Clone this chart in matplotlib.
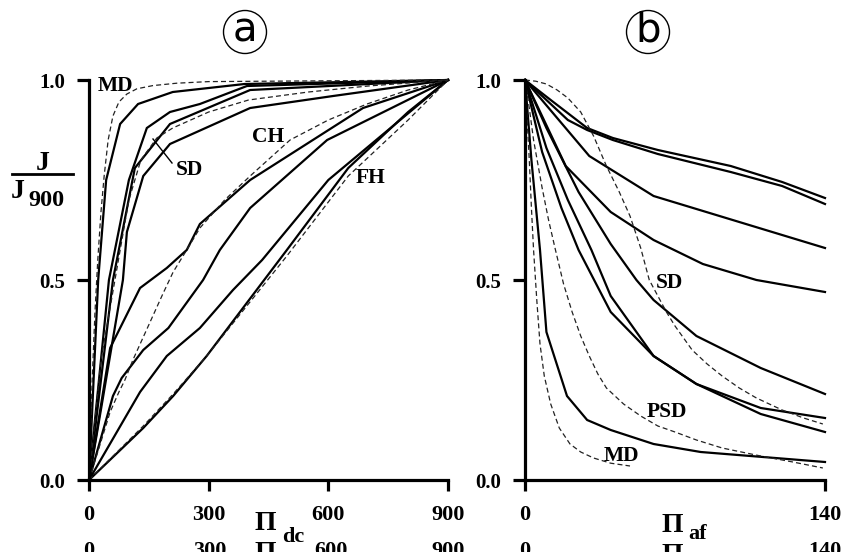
import matplotlib
matplotlib.use("Agg")
import matplotlib.pyplot as plt
from matplotlib.patches import Ellipse
from matplotlib.lines import Line2D

# ---------------------------------
# Panel a : J/J900 vs Pi_dc
# ---------------------------------

md_a_x = [0, 23, 43, 78, 123, 210, 390, 900]
md_a_y = [0, 0.5, 0.75, 0.89, 0.94, 0.97, 0.99, 1.0]
md_a_dash_x = [0, 8, 15, 22, 30, 38, 48, 60, 75, 95, 120, 160, 220, 300, 900]
md_a_dash_y = [0, 0.25, 0.42, 0.55, 0.67, 0.76, 0.85, 0.91, 0.945, 0.965, 0.978, 0.986, 0.992, 0.996, 1.0]

sd_a1_x = [0, 50, 100, 145, 203, 278, 396, 900]
sd_a1_y = [0, 0.5, 0.75, 0.88, 0.92, 0.94, 0.985, 1.0]
sd_a2_x = [0, 60, 115, 203, 404, 900]
sd_a2_y = [0, 0.5, 0.78, 0.89, 0.975, 1.0]
sd_a3_x = [0, 85, 95, 136, 203, 404, 612, 900]
sd_a3_y = [0, 0.5, 0.62, 0.76, 0.84, 0.93, 0.96, 1.0]
sd_a_dash_x = [0, 30, 65, 100, 130, 170, 210, 300, 400, 550, 700, 900]
sd_a_dash_y = [0, 0.3, 0.5, 0.7, 0.8, 0.855, 0.88, 0.92, 0.95, 0.97, 0.985, 1.0]

ch_a1_x = [0, 53, 128, 195, 245, 278, 404, 687, 900]
ch_a1_y = [0, 0.33, 0.48, 0.53, 0.575, 0.64, 0.75, 0.93, 1.0]
ch_a2_x = [0, 60, 82, 136, 199, 286, 328, 404, 597, 900]
ch_a2_y = [0, 0.21, 0.255, 0.325, 0.38, 0.5, 0.575, 0.68, 0.85, 1.0]
ch_a_dash_x = [0, 25, 53, 75, 90, 110, 135, 160, 185, 211, 245, 278, 340, 404, 504, 600, 697, 800, 900]
ch_a_dash_y = [0, 0.08, 0.17, 0.22, 0.25, 0.3, 0.355, 0.41, 0.465, 0.52, 0.575, 0.63, 0.7, 0.76, 0.85, 0.9, 0.94, 0.975, 1.0]

fh_a1_x = [0, 128, 195, 278, 361, 434, 600, 900]
fh_a1_y = [0, 0.22, 0.31, 0.38, 0.475, 0.55, 0.75, 1.0]
fh_a2_x = [0, 136, 211, 295, 496, 650, 800, 900]
fh_a2_y = [0, 0.13, 0.21, 0.31, 0.575, 0.78, 0.92, 1.0]
fh_a_dash_x = [0, 136, 211, 295, 496, 650, 800, 900]
fh_a_dash_y = [0, 0.135, 0.215, 0.31, 0.56, 0.76, 0.9, 1.0]

# ---------------------------------
# Panel b : J/J900 vs Pi_af
# ---------------------------------

b1_x = [0, 12, 29, 41, 62, 96, 120, 140]
b1_y = [1, 0.95, 0.88, 0.855, 0.825, 0.785, 0.745, 0.705]
b2_x = [0, 20, 29, 41, 62, 96, 120, 140]
b2_y = [1, 0.9, 0.875, 0.85, 0.815, 0.77, 0.735, 0.69]
b3_x = [0, 30, 60, 100, 140]
b3_y = [1, 0.81, 0.71, 0.645, 0.58]
b4_x = [0, 19, 40, 60, 83, 108, 140]
b4_y = [1, 0.785, 0.67, 0.6, 0.54, 0.5, 0.47]
b5_x = [0, 10, 25, 40, 52, 60, 80, 110, 140]
b5_y = [1, 0.88, 0.72, 0.59, 0.5, 0.45, 0.36, 0.28, 0.215]
b6_x = [0, 8, 17, 25, 40, 60, 80, 110, 140]
b6_y = [1, 0.82, 0.68, 0.575, 0.42, 0.31, 0.24, 0.165, 0.12]
b7_x = [0, 10, 20, 31, 40, 60, 80, 110, 140]
b7_y = [1, 0.83, 0.7, 0.575, 0.46, 0.31, 0.24, 0.18, 0.155]
md_b_x = [0, 3, 7, 10, 19.6, 29, 40, 60, 82, 140]
md_b_y = [1, 0.8, 0.575, 0.37, 0.21, 0.15, 0.125, 0.09, 0.07, 0.045]

sd_b_dash_x = [0, 5, 10, 15, 20, 26, 32, 38, 44, 49, 54, 58, 62, 66, 70, 78, 85, 92, 100, 108, 120, 130, 139]
sd_b_dash_y = [1, 0.997, 0.99, 0.975, 0.955, 0.92, 0.86, 0.785, 0.72, 0.66, 0.58, 0.5, 0.46, 0.42,
               0.385, 0.325, 0.29, 0.26, 0.23, 0.205, 0.175, 0.155, 0.14]
psd_b_dash_x = [0, 2, 4, 8, 11, 14, 18, 22, 26, 30, 34, 38, 46, 54, 62, 70, 80, 92, 110, 125, 139]
psd_b_dash_y = [1, 0.93, 0.85, 0.73, 0.65, 0.58, 0.49, 0.42, 0.36, 0.31, 0.265, 0.23, 0.19, 0.16,
                0.135, 0.12, 0.1, 0.08, 0.06, 0.045, 0.03]
md_b_dash_x = [0, 1, 2, 3, 4, 5.5, 7, 9, 12, 16, 21, 26, 32, 40, 49]
md_b_dash_y = [1, 0.9, 0.8, 0.68, 0.575, 0.45, 0.34, 0.26, 0.19, 0.13, 0.09, 0.07, 0.055, 0.042, 0.035]

# ---------------------------------
# Figure
# ---------------------------------

W, H = 845, 552
plt.rcParams["font.family"] = "Liberation Serif"
plt.rcParams["font.weight"] = "bold"

fig = plt.figure(figsize=(W / 100, H / 100), dpi=100)
ax_a = fig.add_axes([89 / W, 72 / H, 359 / W, 400 / H])
ax_b = fig.add_axes([525 / W, 72 / H, 300 / W, 400 / H])

SOLID = dict(color="black", lw=1.6, clip_on=False, solid_joinstyle="miter")
DASH = dict(color="#222222", lw=0.9, ls=(0, (4, 2.5)), clip_on=False)

for ax in (ax_a, ax_b):
    ax.spines["top"].set_visible(False)
    ax.spines["right"].set_visible(False)
    ax.spines["left"].set_linewidth(2.3)
    ax.spines["bottom"].set_linewidth(2.3)
    ax.set_ylim(0, 1)
    ax.set_yticks([0, 0.5, 1.0])
    ax.set_yticklabels(["0.0", "0.5", "1.0"])
    ax.tick_params(axis="y", direction="out", length=9, width=2.3, labelsize=15, pad=8)
    ax.tick_params(axis="x", direction="out", length=8, width=2.3, labelsize=16, pad=10)

ax_a.set_xlim(0, 900)
ax_a.set_xticks([0, 300, 600, 900])
ax_b.set_xlim(0, 140)
ax_b.set_xticks([0, 140])

# panel a lines
for xs, ys in [(md_a_x, md_a_y), (sd_a1_x, sd_a1_y), (sd_a2_x, sd_a2_y),
               (sd_a3_x, sd_a3_y), (ch_a1_x, ch_a1_y), (ch_a2_x, ch_a2_y),
               (fh_a1_x, fh_a1_y), (fh_a2_x, fh_a2_y)]:
    ax_a.plot(xs, ys, **SOLID)
for xs, ys in [(md_a_dash_x, md_a_dash_y), (sd_a_dash_x, sd_a_dash_y),
               (ch_a_dash_x, ch_a_dash_y), (fh_a_dash_x, fh_a_dash_y)]:
    ax_a.plot(xs, ys, **DASH)

# panel b lines
for xs, ys in [(b1_x, b1_y), (b2_x, b2_y), (b3_x, b3_y), (b4_x, b4_y),
               (b5_x, b5_y), (b6_x, b6_y), (b7_x, b7_y), (md_b_x, md_b_y)]:
    ax_b.plot(xs, ys, **SOLID)
for xs, ys in [(sd_b_dash_x, sd_b_dash_y), (psd_b_dash_x, psd_b_dash_y),
               (md_b_dash_x, md_b_dash_y)]:
    ax_b.plot(xs, ys, **DASH)

# ---------------------------------
# Labels (pixel positions -> figure fraction)
# ---------------------------------

def ftext(x, y, s, **kw):
    fig.text(x / W, 1 - y / H, s, **kw)

lab = dict(fontsize=15.5, ha="center", va="center")
ftext(115, 86, "MD", **lab)
ftext(189, 170, "SD", **lab)
ftext(268, 137, "CH", **lab)
ftext(371, 178, "FH", **lab)
ftext(669, 283, "SD", **lab)
ftext(667, 412, "PSD", **lab)
ftext(621, 456, "MD", **lab)
fig.add_artist(Line2D([153 / W, 172 / W], [1 - 139 / H, 1 - 163 / H], color="black", lw=1.0))

# y label: J / J900
ftext(43, 163, "J", fontsize=20, ha="center", va="center")
fig.add_artist(Line2D([12 / W, 73 / W], [1 - 174 / H, 1 - 174 / H], color="black", lw=2.0))
ftext(18, 191, "J", fontsize=20, ha="center", va="center")
ftext(46, 201, "900", fontsize=17.5, ha="center", va="center")

# x labels: Pi_dc, Pi_af
ftext(265, 523, "\u03a0", fontsize=20, ha="center", va="center")
ftext(293, 537, "dc", fontsize=16, ha="center", va="center")
ftext(672, 525, "\u03a0", fontsize=20, ha="center", va="center")
ftext(698, 534, "af", fontsize=16, ha="center", va="center")

# circled panel letters
for cx, letter in [(245, "a"), (648, "b")]:
    fig.add_artist(Ellipse((cx / W, 1 - 32 / H), 43 / W, 43 / H, fill=False,
                           ec="black", lw=1.0, transform=fig.transFigure))
    ftext(cx, 31, letter, fontsize=29, ha="center", va="center",
          family="DejaVu Sans", weight="normal")

# ghost copy of the tick label row, cut by the bottom edge (as in the source image)
ghost = dict(fontsize=16, ha="center", va="center")
for gx, gs in [(89, "0"), (210, "300"), (331, "600"), (448, "900"), (525, "0"), (825, "140")]:
    ftext(gx, 551, gs, **ghost)
ftext(265, 553, "\u03a0", fontsize=20, ha="center", va="center")
ftext(672, 556, "\u03a0", fontsize=20, ha="center", va="center")

fig.savefig("out.png", dpi=100)
